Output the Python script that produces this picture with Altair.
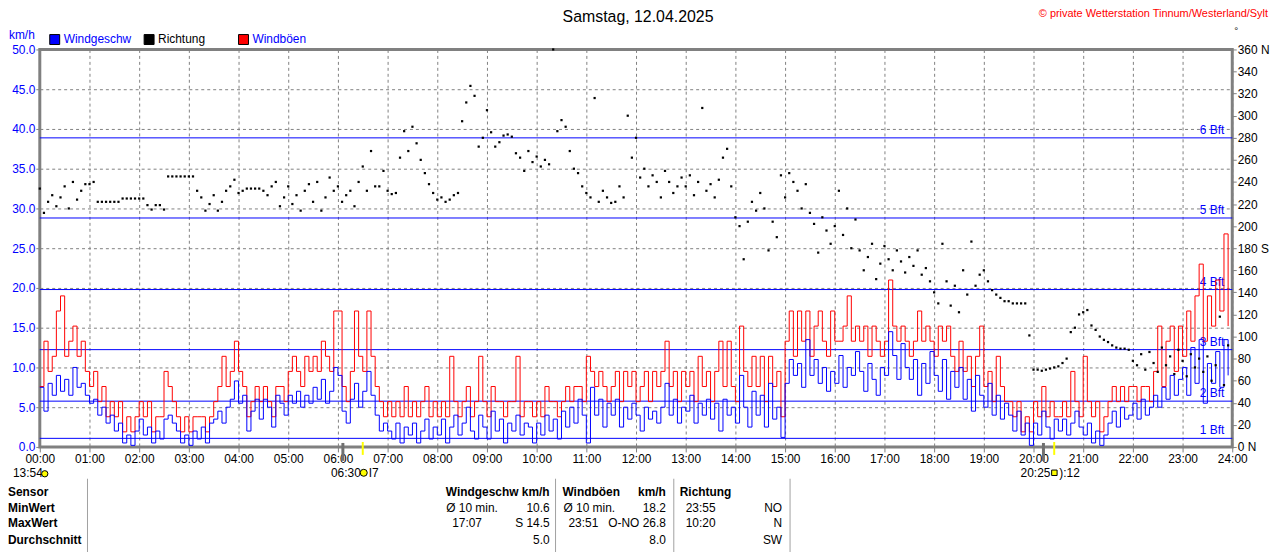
import altair as alt
import pandas as pd

# ---------------- data (5-minute steps) ----------------
minutes = list(range(0, 1440, 5))

wind = [
    7.5, 4.5, 8.0, 6.5, 9.0, 7.0,
    8.5, 6.5, 10.0, 7.5, 8.0, 6.5,
    5.5, 6.0, 4.0, 5.0, 3.0, 4.0,
    2.0, 3.0, 0.5, 1.5, 0.2, 2.0,
    3.5, 1.5, 2.5, 0.5, 2.0, 1.0,
    3.5, 4.0, 3.0, 2.0, 0.5, 1.5,
    0.2, 2.0, 1.0, 2.5, 0.5, 3.0,
    3.5, 4.5, 3.0, 5.0, 6.0, 8.3,
    5.5, 6.5, 2.0, 4.5, 6.0, 3.5,
    6.0, 5.0, 2.5, 6.5, 5.5, 4.0,
    6.5, 5.5, 7.0, 5.0, 6.5, 5.5,
    7.5, 6.0, 8.5, 5.5, 7.0, 10.0,
    9.0, 4.5, 3.0, 6.0, 8.0, 5.0,
    7.0, 9.5, 6.5, 4.0, 2.0, 3.0,
    2.0, 1.0, 3.0, 0.5, 2.5, 1.5,
    3.0, 0.5, 2.0, 3.5, 1.0, 2.5,
    1.5, 3.5, 0.5, 2.5, 4.0, 1.5,
    3.0, 5.0, 2.0, 1.0, 4.0, 2.5,
    1.0, 4.5, 2.0, 3.5, 0.5, 3.0,
    2.0, 4.0, 1.5, 3.0, 2.5, 0.5,
    3.0, 1.5, 4.0, 2.0, 3.5, 1.0,
    4.5, 2.5, 5.0, 3.0, 6.0, 4.0,
    0.5, 7.5, 4.0, 6.0, 2.5, 5.5,
    4.0, 6.0, 2.5, 5.0, 3.5, 5.5,
    4.0, 2.0, 5.0, 3.5, 4.5, 3.0,
    5.0, 8.0, 4.0, 6.0, 3.0, 5.0,
    4.5, 6.5, 3.0, 5.5, 4.0, 6.0,
    3.5, 5.5, 2.0, 6.0, 4.0, 5.0,
    3.0, 9.0, 5.0, 2.5, 7.0, 4.0,
    6.5, 2.5, 8.0, 3.5, 5.0, 1.2,
    8.0, 11.0, 9.0, 10.5, 7.5, 13.5,
    9.0, 11.0, 8.0, 10.0, 7.0, 9.5,
    8.0, 11.5, 7.5, 10.0, 9.0, 12.0,
    9.5, 7.0, 10.5, 8.5, 6.5, 10.0,
    9.0, 14.5, 11.5, 8.5, 13.0, 10.0,
    8.5, 11.0, 6.5, 10.5, 8.0, 12.0,
    9.0, 7.0, 11.0, 6.0, 9.5, 7.5,
    10.0, 6.0, 8.5, 4.5, 9.0, 6.5,
    5.0, 8.0, 4.0, 6.5, 3.5, 5.5,
    4.0, 2.0, 4.5, 1.5, 3.0, 0.2,
    3.0, 1.5, 4.5, 2.5, 1.0, 3.5,
    2.0, 3.5, 1.5, 3.0, 4.5, 2.5,
    1.5, 3.0, 0.5, 2.0, 0.2, 1.5,
    3.0, 4.5, 2.5, 5.0, 3.5, 4.0,
    5.5, 3.5, 6.0, 4.0, 5.0, 6.5,
    5.0, 7.5, 6.0, 9.0, 6.5, 8.5,
    10.0, 6.5, 12.5, 8.0, 13.5, 5.5,
    10.5, 8.0, 12.0, 7.5, 13.5, 9.0,
]

gust = [
    7.6, 13.3, 9.5, 11.4, 17.1, 19.0,
    11.4, 13.3, 15.2, 11.4, 13.3, 9.5,
    7.6, 9.5, 5.7, 7.6, 3.8, 5.7,
    3.8, 5.7, 1.9, 3.8, 1.9, 3.8,
    5.7, 3.8, 5.7, 1.9, 3.8, 3.8,
    9.5, 7.6, 5.7, 3.8, 1.9, 3.8,
    1.9, 3.8, 3.8, 3.8, 1.9, 3.8,
    5.7, 7.6, 11.4, 7.6, 9.5, 13.3,
    9.5, 7.6, 3.8, 5.7, 7.6, 5.7,
    7.6, 5.7, 3.8, 7.6, 7.6, 5.7,
    9.5, 11.4, 9.5, 7.6, 11.4, 9.5,
    11.4, 9.5, 13.3, 11.4, 9.5, 17.1,
    17.1, 7.6, 5.7, 9.5, 17.1, 11.4,
    9.5, 17.1, 11.4, 7.6, 5.7, 3.8,
    5.7, 3.8, 5.7, 3.8, 7.6, 3.8,
    5.7, 3.8, 5.7, 7.6, 3.8, 5.7,
    3.8, 5.7, 3.8, 11.4, 5.7, 3.8,
    5.7, 7.6, 3.8, 5.7, 11.4, 5.7,
    3.8, 7.6, 5.7, 5.7, 3.8, 5.7,
    5.7, 11.4, 3.8, 5.7, 5.7, 3.8,
    5.7, 3.8, 7.6, 5.7, 5.7, 3.8,
    5.7, 7.6, 5.7, 7.6, 7.6, 5.7,
    11.4, 9.5, 7.6, 9.5, 7.6, 5.7,
    7.6, 9.5, 5.7, 9.5, 7.6, 9.5,
    5.7, 7.6, 9.5, 5.7, 9.5, 7.6,
    9.5, 13.3, 7.6, 9.5, 5.7, 9.5,
    7.6, 9.5, 5.7, 11.4, 7.6, 9.5,
    5.7, 9.5, 13.3, 7.6, 13.3, 7.6,
    5.7, 15.2, 9.5, 7.6, 11.4, 7.6,
    11.4, 5.7, 11.4, 7.6, 9.5, 3.8,
    13.3, 17.1, 11.4, 17.1, 13.3, 17.1,
    11.4, 15.2, 17.1, 13.3, 11.4, 17.1,
    13.3, 13.3, 15.2, 19.0, 13.3, 15.2,
    13.3, 15.2, 11.4, 15.2, 13.3, 11.4,
    13.3, 21.0, 15.2, 13.3, 15.2, 13.3,
    11.4, 13.3, 17.1, 13.3, 15.2, 13.3,
    11.4, 15.2, 13.3, 15.2, 11.4, 9.5,
    13.3, 9.5, 11.4, 7.6, 11.4, 15.2,
    7.6, 9.5, 5.7, 11.4, 7.6, 5.7,
    5.7, 3.8, 5.7, 1.9, 3.8, 1.9,
    5.7, 3.8, 7.6, 3.8, 5.7, 3.8,
    3.8, 5.7, 3.8, 9.5, 5.7, 3.8,
    11.4, 5.7, 3.8, 5.7, 1.9, 3.8,
    5.7, 7.6, 5.7, 7.6, 5.7, 7.6,
    7.6, 5.7, 7.6, 7.6, 5.7, 9.5,
    15.2, 7.6, 13.3, 15.2, 9.5, 15.2,
    11.4, 17.1, 13.3, 19.0, 23.0, 13.3,
    19.0, 15.2, 21.0, 17.1, 26.8, 15.2,
]

direction = [
    234, 212, 222, 228, 218, 226,
    236, 216, 240, 224, 232, 238,
    238, 240, 222, 222, 222, 222,
    222, 222, 225, 225, 225, 225,
    225, 225, 219, 215, 219, 219,
    215, 245, 245, 245, 245, 245,
    245, 245, 232, 226, 214, 220,
    228, 214, 222, 232, 236, 242,
    230, 232, 234, 234, 234, 234,
    232, 228, 236, 240, 218, 226,
    236, 220, 228, 214, 232, 238,
    222, 240, 214, 226, 244, 232,
    236, 222, 228, 232, 218, 240,
    254, 232, 268, 236, 236, 250,
    232, 229, 230, 262, 286, 268,
    290, 275, 260, 248, 238, 230,
    224, 226, 222, 224, 228, 230,
    295, 312, 327, 318, 272, 280,
    305, 285, 272, 276, 282, 283,
    281, 266, 262, 250, 268, 258,
    263, 254, 260, 256, 360, 286,
    296, 290, 268, 252, 248, 236,
    230, 226, 316, 222, 232, 226,
    221, 222, 236, 226, 300, 262,
    280, 244, 252, 236, 246, 240,
    226, 250, 240, 230, 236, 244,
    236, 246, 228, 240, 307, 232,
    238, 226, 242, 262, 270, 236,
    208, 200, 170, 204, 222, 214,
    230, 216, 178, 204, 190, 246,
    226, 248, 240, 232, 216, 238,
    212, 202, 176, 208, 196, 184,
    200, 232, 192, 216, 180, 206,
    178, 160, 172, 184, 152, 166,
    182, 170, 160, 178, 168, 158,
    172, 164, 178, 156, 162, 150,
    140, 130, 184, 150, 128, 146,
    122, 160, 138, 186, 146, 156,
    160, 150, 142, 138, 135, 132,
    132, 130, 130, 130, 130, 101,
    70, 70, 69, 70, 71, 72,
    73, 76, 80, 104, 108, 120,
    122, 124, 110, 106, 100, 97,
    95, 92, 90, 89, 89, 88,
    78, 74, 84, 70, 86, 76,
    68, 90, 74, 82, 66, 88,
    78, 64, 84, 72, 80, 68,
    82, 60, 74, 118, 56, 92,
]

bft_values = [1.08, 5.76, 12.24, 19.8, 28.8, 38.88]
bft_labels = ["1 Bft", "2 Bft", "3 Bft", "4 Bft", "5 Bft", "6 Bft"]

sun_event_minutes = [390, 1225]      # 06:30 sunrise, 20:25 sunset
marker_minutes = [366, 1212]         # grey markers on the time axis

title_text = "Samstag, 12.04.2025"
copyright_text = "\u00a9 private Wetterstation Tinnum/Westerland/Sylt"
legend_names = ["Windgeschw", "Richtung", "Windböen"]

table_header = ["Sensor", "Windgeschw km/h", "Windböen", "km/h", "Richtung"]
row_names = ["MinWert", "MaxWert", "Durchschnitt"]

assert len(wind) == len(gust) == len(direction) == len(minutes)

df = pd.DataFrame({"t": minutes, "wind": wind, "gust": gust, "dir": direction})
bft = pd.DataFrame({"v": bft_values, "label": bft_labels})
sun = pd.DataFrame({"t": sun_event_minutes})
marks = pd.DataFrame({"t": marker_minutes})
dummy = pd.DataFrame({"k": [0]})

FONT = "Liberation Sans"
BLUE = "#0000FF"
RED = "#FF0000"
GRAY = "#808080"
X0, Y0 = 40, 48   # page position of the plot area's top-left corner

xscale = alt.Scale(domain=[0, 1440], nice=False, zero=False)
xaxis = alt.Axis(
    values=list(range(0, 1441, 60)),
    labelExpr="(datum.value < 600 ? '0' : '') + floor(datum.value / 60) + ':00'",
    title=None, grid=True, gridDash=[3, 3], gridColor=GRAY, gridOpacity=1,
    tickColor=GRAY, tickSize=5, labelFontSize=12, labelColor="black",
    labelFont=FONT, domain=False, labelPadding=2, labelFlush=False,
    labelOverlap=False,
)
xenc = alt.X("t:Q", scale=xscale, axis=xaxis)

yscale_left = alt.Scale(domain=[0, 50], nice=False, zero=True)
yaxis_left = alt.Axis(
    values=list(range(0, 51, 5)), format=".1f", labelColor=BLUE,
    labelFontSize=12, labelFont=FONT, grid=True, gridDash=[3, 3],
    gridColor=GRAY, gridOpacity=1, tickColor=GRAY, tickSize=4,
    domain=False, title=None, labelPadding=1,
)
yscale_right = alt.Scale(domain=[0, 360], nice=False, zero=True)
yaxis_right = alt.Axis(
    orient="right", values=list(range(0, 361, 20)),
    labelExpr="datum.value == 360 ? '360 N' : datum.value == 180 ? '180 S' : datum.value == 0 ? '0   N' : datum.label",
    labelColor="black", labelFontSize=12, labelFont=FONT, grid=False,
    tickColor=GRAY, tickSize=4, domain=False, title=None, labelPadding=1,
)

bft_rules = alt.Chart(bft).mark_rule(color=BLUE, strokeWidth=1).encode(
    y=alt.Y("v:Q", scale=yscale_left, axis=yaxis_left)
)
bft_text = alt.Chart(bft).mark_text(
    align="right", baseline="bottom", dy=-1, color=BLUE, fontSize=12, font=FONT
).encode(
    x=alt.value(1232 - X0),
    y=alt.Y("v:Q", scale=yscale_left, axis=yaxis_left),
    text="label:N",
)
red_line = alt.Chart(df).mark_line(
    color=RED, strokeWidth=1, interpolate="step-after"
).encode(x=xenc, y=alt.Y("gust:Q", scale=yscale_left, axis=yaxis_left))
blue_line = alt.Chart(df).mark_line(
    color=BLUE, strokeWidth=1, interpolate="step-after"
).encode(x=xenc, y=alt.Y("wind:Q", scale=yscale_left, axis=yaxis_left))

left = alt.layer(bft_rules, bft_text, red_line, blue_line)

dots = alt.Chart(df).mark_square(size=5, color="black", opacity=1).encode(
    x=xenc, y=alt.Y("dir:Q", scale=yscale_right, axis=yaxis_right)
)

sun_ticks = alt.Chart(sun).mark_rule(color="#FFFF00", strokeWidth=2).encode(
    x=alt.X("t:Q", scale=xscale, axis=xaxis),
    y=alt.value(443 - Y0), y2=alt.value(456 - Y0),
)
grey_ticks = alt.Chart(marks).mark_rule(color="#707070", strokeWidth=3).encode(
    x=alt.X("t:Q", scale=xscale, axis=xaxis),
    y=alt.value(444 - Y0), y2=alt.value(462 - Y0),
)


def txt(s, px, py, size=12, color="black", align="left", weight="normal", font=FONT):
    return alt.Chart(dummy).mark_text(
        align=align, baseline="middle", fontSize=size, color=color,
        fontWeight=weight, font=font,
    ).encode(x=alt.value(px - X0), y=alt.value(py - Y0), text=alt.value(s))


def sq(px, py, color, size=100, shape="square"):
    return alt.Chart(dummy).mark_point(
        shape=shape, filled=True, size=size, color=color, stroke="black",
        strokeWidth=1, opacity=1,
    ).encode(x=alt.value(px - X0), y=alt.value(py - Y0))


def vline(px, py1, py2, color="#A0A0A0"):
    return alt.Chart(dummy).mark_rule(color=color, strokeWidth=1).encode(
        x=alt.value(px - X0), y=alt.value(py1 - Y0), y2=alt.value(py2 - Y0)
    )


decor = [
    txt(title_text, 642, 15, size=16, align="center"),
    txt(copyright_text, 1276, 12, size=11, color=RED, align="right"),
    txt("°", 1242, 29, size=10),
    txt("km/h", 9, 33, color=BLUE),
    sq(55, 38, BLUE), txt(legend_names[0], 64, 38, color=BLUE),
    sq(150, 38, "black"), txt(legend_names[1], 159, 38),
    sq(245, 38, RED), txt(legend_names[2], 254, 38, color=BLUE),
    # sun / moon markers under the time axis
    txt("13:54", 13, 474), sq(45, 475, "#FFFF00", size=40, shape="circle"),
    txt("06:30", 333, 474), sq(366, 474, "#FFFF00", size=50, shape="circle"),
    txt("I7", 371, 474),
    txt("20:25", 1027, 474), sq(1061, 474, "#FFFF00", size=30),
    txt("):12", 1066, 474),
    # table
    vline(88, 480, 560), vline(559, 480, 560), vline(678, 480, 560), vline(795, 480, 560),
    txt(table_header[0], 8, 493, weight="bold"),
    txt(row_names[0], 8, 509, weight="bold"),
    txt(row_names[1], 8, 525, weight="bold"),
    txt(row_names[2], 8, 542, weight="bold"),
    txt(table_header[1], 553, 493, weight="bold", align="right"),
    txt(table_header[2], 566, 493, weight="bold"),
    txt(table_header[3], 670, 493, weight="bold", align="right"),
    txt(table_header[4], 684, 493, weight="bold"),
    txt("Ø 10 min.", 449, 509), txt("10.6", 553, 509, align="right"),
    txt("Ø 10 min.", 567, 509), txt("18.2", 670, 509, align="right"),
    txt("23:55", 690, 509), txt("NO", 787, 509, align="right"),
    txt("17:07", 455, 525), txt("S 14.5", 553, 525, align="right"),
    txt("23:51", 572, 525), txt("O-NO 26.8", 670, 525, align="right"),
    txt("10:20", 690, 525), txt("N", 787, 525, align="right"),
    txt("5.0", 553, 542, align="right"), txt("8.0", 670, 542, align="right"),
    txt("SW", 787, 542, align="right"),
]

chart = alt.layer(left, dots, grey_ticks, sun_ticks, *decor).resolve_scale(
    y="independent"
).properties(
    width=1200, height=400,
    padding={"left": 32, "top": 40, "right": 40, "bottom": 104},
    autosize=alt.AutoSizeParams(type="none"),
    background="white",
).configure_view(stroke=GRAY, strokeWidth=3)

chart.save("out.html", embed_options={"renderer": "svg", "actions": False})
